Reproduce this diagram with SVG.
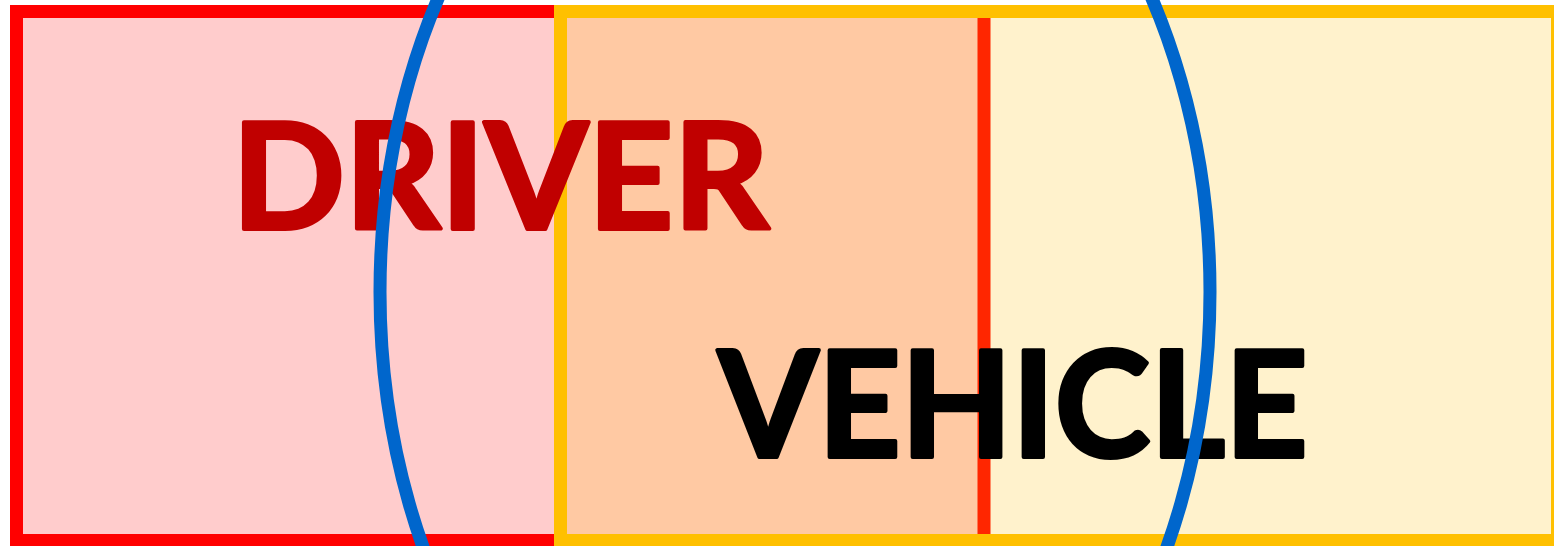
<svg xmlns="http://www.w3.org/2000/svg" width="1554" height="546" viewBox="0 0 1554 546">
  <style>
    .lbl { font-family: Lato, "Open Sans", "Liberation Sans", sans-serif; font-weight: bold; font-size: 147px; stroke-width: 4; stroke-linejoin: round; }
  </style>
  <rect width="1554" height="546" fill="#FFFFFF"/>
  <g id="driver-set">
    <rect x="16.5" y="11.5" width="967.5" height="529" fill="#FF0000" fill-opacity="0.2" stroke="#FF0000" stroke-width="13"/>
  </g>
  <g id="vehicle-set">
    <rect x="560.5" y="11.5" width="997" height="529" fill="#FFC000" fill-opacity="0.2" stroke="#FFC000" stroke-width="13"/>
  </g>
  <g id="labels">
    <text id="driver-label" class="lbl" x="232" y="229" textLength="537" lengthAdjust="spacingAndGlyphs" fill="#C00000" stroke="#C00000">DRIVER</text>
    <text id="vehicle-label" class="lbl" x="718" y="457" textLength="590" lengthAdjust="spacingAndGlyphs" fill="#000000" stroke="#000000">VEHICLE</text>
  </g>
  <g id="connectors">
    <ellipse id="boundary" cx="795" cy="292" rx="415" ry="575" fill="none" stroke="#0066CC" stroke-width="13"/>
  </g>
</svg>
